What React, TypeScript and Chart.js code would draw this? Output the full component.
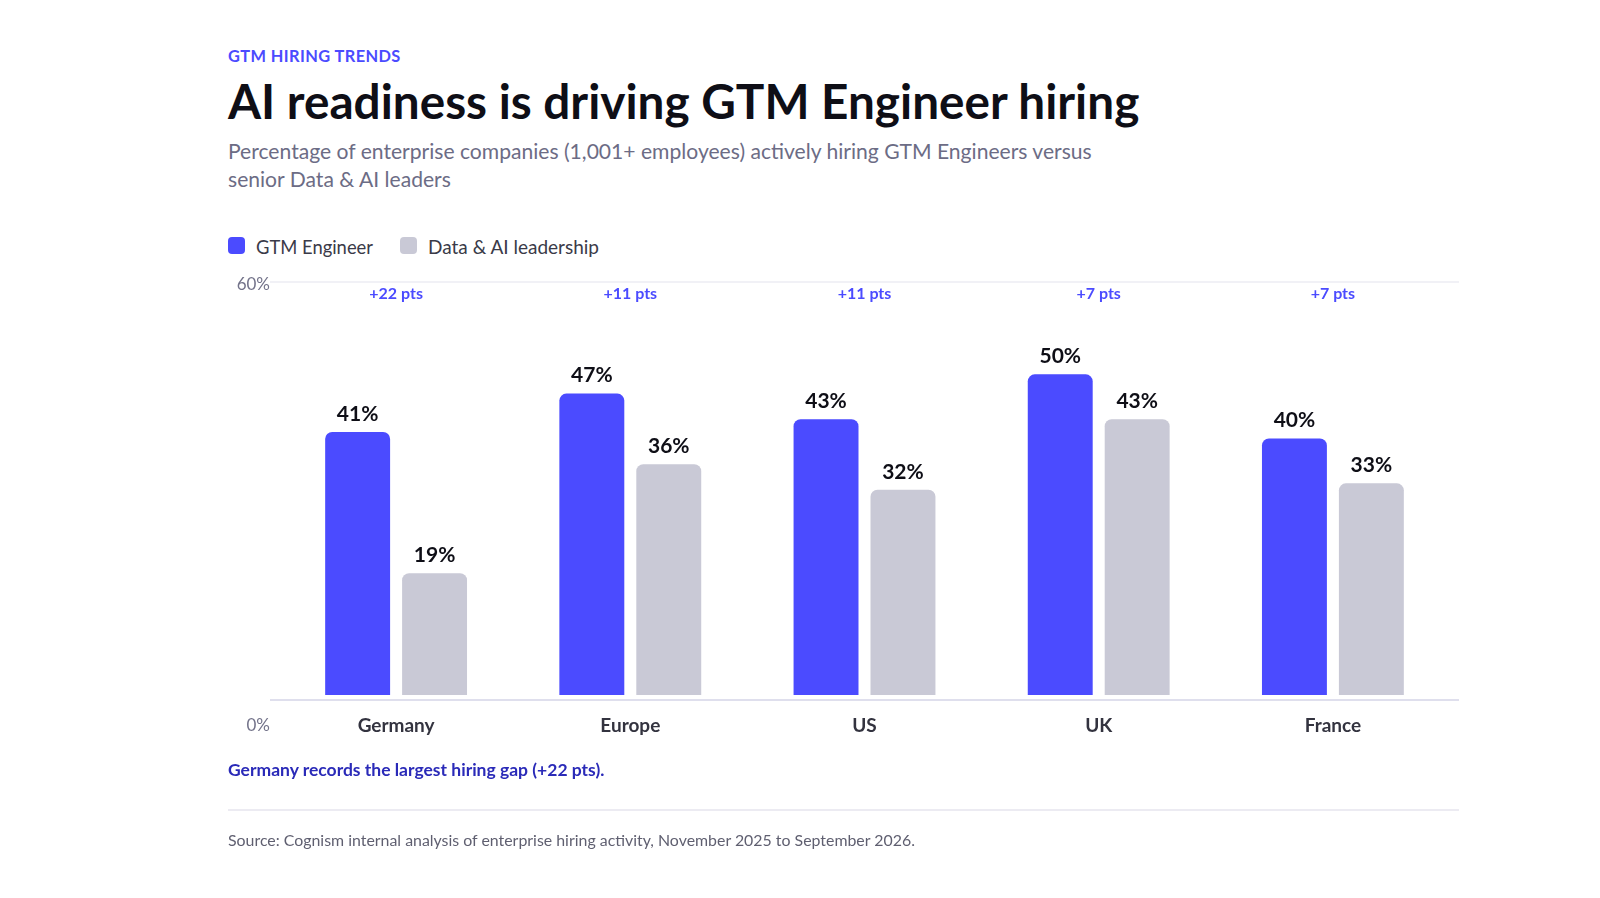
import React, { useEffect, useRef } from "react";
import { Chart, registerables } from "chart.js";

Chart.register(...registerables);

const categories = ["Germany", "Europe", "US", "UK", "France"];
const gtmEngineer = [41, 47, 43, 50, 40];
const dataAiLeadership = [19, 36, 32, 43, 33];
const gapLabels = ["+22 pts", "+11 pts", "+11 pts", "+7 pts", "+7 pts"];
const yTickLabels = ["60%", "0%"];

const BLUE = "#4b4bff";
const GREY = "#c9c9d6";
const FONT = "Lato, sans-serif";

// source draws the frame lines a little outside the bar scale, so the scale runs past 0 and 60
const Y_MIN = -0.78;
const Y_MAX = 64.4;

const annotations = {
  id: "annotations",
  afterDatasetsDraw(chart: Chart) {
    const { ctx, scales } = chart;
    const top = scales.y.getPixelForValue(Y_MAX);
    const bottom = scales.y.getPixelForValue(Y_MIN);

    ctx.save();
    ctx.lineWidth = 1.2;
    ctx.strokeStyle = "#e3e3ee";
    ctx.beginPath();
    ctx.moveTo(270, top);
    ctx.lineTo(1459, top);
    ctx.stroke();
    ctx.strokeStyle = "#bfbfdc";
    ctx.beginPath();
    ctx.moveTo(270, bottom);
    ctx.lineTo(1459, bottom);
    ctx.stroke();

    // axis labels
    ctx.font = `400 17px ${FONT}`;
    ctx.fillStyle = "#73738a";
    ctx.textAlign = "right";
    ctx.textBaseline = "middle";
    ctx.fillText(yTickLabels[0], 270, top + 3);
    ctx.fillText(yTickLabels[1], 270, bottom + 26);

    // gap labels
    ctx.font = `700 16px ${FONT}`;
    ctx.fillStyle = BLUE;
    ctx.textAlign = "center";
    gapLabels.forEach((label, i) => {
      ctx.fillText(label, scales.x.getPixelForValue(i), top + 12);
    });

    // value labels
    ctx.font = `700 21px ${FONT}`;
    ctx.fillStyle = "#0e0e16";
    chart.data.datasets.forEach((ds, d) => {
      chart.getDatasetMeta(d).data.forEach((bar, i) => {
        ctx.fillText(`${ds.data[i]}%`, bar.x, bar.y - 18);
      });
    });
    ctx.restore();
  },
};

const App: React.FC = () => {
  const canvasRef = useRef<HTMLCanvasElement | null>(null);

  useEffect(() => {
    const ctx = canvasRef.current?.getContext("2d");
    if (!ctx) return;

    const chart = new Chart(ctx, {
      type: "bar",
      data: {
        labels: categories,
        datasets: [
          { label: "GTM Engineer", data: gtmEngineer, backgroundColor: BLUE },
          { label: "Data & AI leadership", data: dataAiLeadership, backgroundColor: GREY },
        ],
      },
      options: {
        animation: false,
        responsive: false,
        layout: { padding: { left: 279, right: 150, top: 282, bottom: 138 } },
        datasets: {
          bar: {
            barPercentage: 0.844,
            categoryPercentage: 0.657,
            borderRadius: { topLeft: 7, topRight: 7, bottomLeft: 0, bottomRight: 0 },
            borderSkipped: false,
          },
        },
        plugins: { legend: { display: false }, tooltip: { enabled: false } },
        scales: {
          x: {
            grid: { display: false },
            border: { display: false },
            afterFit: (scale) => {
              scale.height = 60;
            },
            ticks: {
              padding: 6,
              color: "#33333f",
              font: { family: FONT, size: 19, weight: 700 },
            },
          },
          y: { display: false, min: Y_MIN, max: Y_MAX },
        },
      },
      plugins: [annotations],
    });

    return () => chart.destroy();
  }, []);

  const text = (top: number, style: React.CSSProperties): React.CSSProperties => ({
    position: "absolute",
    left: 228,
    top,
    margin: 0,
    whiteSpace: "nowrap",
    fontFamily: FONT,
    ...style,
  });

  const legendSwatch = (left: number, color: string): React.CSSProperties => ({
    position: "absolute",
    left,
    top: 237,
    width: 17,
    height: 17,
    borderRadius: 4,
    background: color,
  });

  return (
    <div style={{ position: "absolute", left: 0, top: 0, width: 1600, height: 898, background: "#fff", overflow: "hidden" }}>
      <div style={text(45, { fontSize: 16.4, lineHeight: "22px", fontWeight: 700, letterSpacing: 0.4, color: BLUE })}>
        GTM HIRING TRENDS
      </div>
      <h1 style={text(69, { fontSize: 47.7, lineHeight: "64px", fontWeight: 700, color: "#0e0e16" })}>
        AI readiness is driving GTM Engineer hiring
      </h1>
      <div style={text(137, { fontSize: 21.1, lineHeight: "28px", color: "#6c6c85" })}>
        Percentage of enterprise companies (1,001+ employees) actively hiring GTM Engineers versus
        <br />
        senior Data &amp; AI leaders
      </div>

      <div style={legendSwatch(228, BLUE)} />
      <div style={text(234, { left: 256, fontSize: 18.4, lineHeight: "26px", color: "#3a3a48" })}>GTM Engineer</div>
      <div style={legendSwatch(400, GREY)} />
      <div style={text(234, { left: 428, fontSize: 19, lineHeight: "26px", color: "#3a3a48" })}>Data &amp; AI leadership</div>

      <canvas ref={canvasRef} width={1600} height={898} style={{ position: "absolute", left: 0, top: 0 }} />

      <div style={text(758, { fontSize: 17.5, lineHeight: "24px", fontWeight: 700, color: "#2a2ab8" })}>
        Germany records the largest hiring gap (+22 pts).
      </div>
      <div style={{ position: "absolute", left: 228, top: 809, width: 1231, height: 2, background: "#ecebf2" }} />
      <div style={text(829, { fontSize: 15.9, lineHeight: "22px", color: "#5f5f70" })}>
        Source: Cognism internal analysis of enterprise hiring activity, November 2025 to September 2026.
      </div>
    </div>
  );
};

export default App;
